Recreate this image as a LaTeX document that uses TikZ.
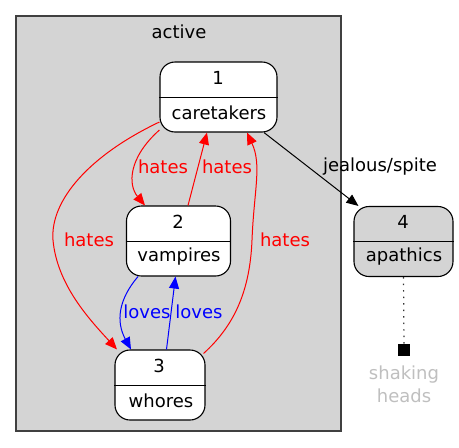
\documentclass[tikz,border=0pt]{standalone}
\usepackage{fontspec}
\setmainfont{DejaVu Sans}
\usetikzlibrary{arrows.meta,calc}
\begin{document}
\begin{tikzpicture}[x=1pt,y=-1pt,
  every node/.style={font=\fontsize{18}{23}\selectfont, inner sep=0pt},
  statebox/.style={draw=black, line width=1.1pt, rounded corners=15pt, fill=white},
  divider/.style={line width=0.9pt},
  redge/.style={draw=red, line width=1pt, -{Triangle[length=12pt,width=10pt]}},
  bedge/.style={draw=blue, line width=1pt, -{Triangle[length=12pt,width=10pt]}},
  kedge/.style={draw=black, line width=1pt, -{Triangle[length=12pt,width=10pt]}},
  rlab/.style={text=red},
  blab/.style={text=blue}]
\useasboundingbox (0,0) rectangle (459,448);
% cluster
\node[draw=black!75, line width=1.1pt, fill=black!17, minimum width=325pt, minimum height=415pt] (cl) at (178.5,223.5) {};
\node (cllab) at (179,32) {active};
% nodes
\node[statebox, minimum width=117pt, minimum height=70pt] (n1) at (218.5,97) {};
\draw[divider] (n1.west) -- (n1.east);
\node (n1a) at (218,78) {1};
\node (n1b) at (219,113) {caretakers};

\node[statebox, minimum width=104pt, minimum height=70pt] (n2) at (178.5,241) {};
\draw[divider] (n2.west) -- (n2.east);
\node (n2a) at (178,222) {2};
\node (n2b) at (179,257) {vampires};

\node[statebox, minimum width=90pt, minimum height=70pt] (n3) at (160,385) {};
\draw[divider] (n3.west) -- (n3.east);
\node (n3a) at (159,366) {3};
\node (n3b) at (161,401) {whores};

\node[statebox, fill=black!17, minimum width=99pt, minimum height=70pt] (n4) at (403.5,241.5) {};
\draw[divider] (n4.west) -- (n4.east);
\node (n4a) at (403,222) {4};
\node (n4b) at (404,257) {apathics};

\node[fill=black, minimum size=12pt] (sq) at (404,350) {};
\node[align=center, text=black!25] (shk) at (404,384) {shaking\\heads};

% edges
\draw[redge] ($(n1.west)+(0,33)$) .. controls (128,158) and (128,185) .. ($(n2.north)+(-33.5,0)$);
\draw[redge] ($(n2.north)+(9.5,0)$) -- ($(n1.south)+(-11.5,0)$);
\draw[redge] ($(n1.west)+(0,25)$) .. controls (90,155) and (50,200) .. (53,240) .. controls (57,285) and (90,320) .. ($(n3.north)+(-43,0)$);
\draw[redge] ($(n3.north east)+(-2,4)$) .. controls (235,325) and (250,290) .. (252,240) .. controls (254,190) and (262,165) .. ($(n1.south)+(28.5,0)$);
\draw[bedge] ($(n2.south)+(-40.5,0)$) .. controls (118,300) and (116,322) .. ($(n3.north)+(-29,0)$);
\draw[bedge] ($(n3.north)+(6.5,0)$) -- ($(n2.south)+(-3,0)$);
\draw[kedge] ($(n1.south)+(45.5,0)$) -- ($(n4.north west)+(5,0)$);
\draw[line width=1.2pt, dash pattern=on 1.5pt off 5pt, black!80] (n4.south) -- (sq.north);

% labels
\node[rlab] (l12) at (163,167) {hates};
\node[rlab] (l21) at (227,167) {hates};
\node[rlab] (l13) at (89,240) {hates};
\node[rlab] (l31) at (285,240) {hates};
\node[blab] (l23) at (147,312) {loves};
\node[blab] (l32) at (199,312) {loves};
\node (l14) at (380,167) {jealous/spite};
\end{tikzpicture}
\end{document}
